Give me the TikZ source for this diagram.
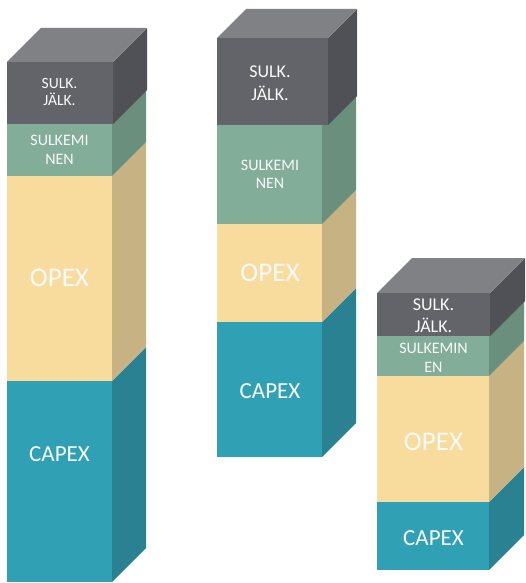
\documentclass[tikz,border=0pt]{standalone}
\usepackage{fontspec}
\setmainfont{Carlito}
\definecolor{grayF}{HTML}{636469}
\definecolor{grayT}{HTML}{808185}
\definecolor{grayS}{HTML}{505156}
\definecolor{greenF}{HTML}{82AE99}
\definecolor{greenS}{HTML}{6A8F7D}
\definecolor{yelF}{HTML}{F8DC9E}
\definecolor{yelS}{HTML}{C7B283}
\definecolor{tealF}{HTML}{30A1B5}
\definecolor{tealS}{HTML}{2A8192}
\definecolor{lbl}{HTML}{FAFAFA}
% #1 xl, #2 xr, #3 depth, #4 top, #5 bottom, #6 front colour, #7 side colour
\newcommand\cubeblock[7]{%
  \fill[#6] (#1,#4) rectangle (#2,#5);
  \fill[#7] (#2,#4) -- ++(#3,-#3) -- (#2+#3,#5-#3) -- (#2,#5) -- cycle;
}
% top face: #1 xl, #2 xr, #3 depth, #4 top
\newcommand\cubetop[4]{%
  \fill[grayT] (#1,#4) -- (#1+#3,#4-#3) -- (#2+#3,#4-#3) -- (#2,#4) -- cycle;
}
\tikzset{
  lab/.style={text=lbl, align=center, inner sep=0pt},
  biglab/.style={lab, font=\fontsize{27}{30}\selectfont},
  caplab/.style={lab, font=\fontsize{23}{26}\selectfont},
}
\begin{document}
\begin{tikzpicture}[x=1pt,y=-1pt]
\useasboundingbox (0,0) rectangle (526,583);
% ---------- bar 1 ----------
\cubeblock{7}{112}{34}{381}{582}{tealF}{tealS}
\cubeblock{7}{112}{34}{176}{381}{yelF}{yelS}
\cubeblock{7}{112}{34}{124}{176}{greenF}{greenS}
\cubeblock{7}{113}{34}{62}{124}{grayF}{grayS}
\cubetop{7}{113}{34}{62}
\node[lab, font=\fontsize{15.6}{17}\selectfont] (b1s) at (59.5,92) {SULK.\\JÄLK.};
\node[lab, font=\fontsize{16}{19}\selectfont] (b1k) at (59.5,150) {SULKEMI\\NEN};
\node[biglab] (b1o) at (59.5,278) {OPEX};
\node[caplab] (b1c) at (59.5,454) {CAPEX};
% ---------- bar 2 ----------
\cubeblock{217}{322}{34}{322}{457}{tealF}{tealS}
\cubeblock{217}{322}{34}{224}{322}{yelF}{yelS}
\cubeblock{217}{322}{34}{125}{224}{greenF}{greenS}
\cubeblock{217}{328}{29}{38}{125}{grayF}{grayS}
\cubetop{217}{328}{29}{38}
\node[lab, font=\fontsize{18}{23}\selectfont] (b2s) at (270,83) {SULK.\\JÄLK.};
\node[lab, font=\fontsize{16}{18}\selectfont] (b2k) at (270,174) {SULKEMI\\NEN};
\node[biglab] (b2o) at (270,273) {OPEX};
\node[caplab] (b2c) at (270,391) {CAPEX};
% ---------- bar 3 ----------
\cubeblock{377}{489}{35}{502}{570}{tealF}{tealS}
\cubeblock{377}{489}{35}{376}{502}{yelF}{yelS}
\cubeblock{377}{489}{35}{336}{376}{greenF}{greenS}
\cubeblock{377}{490}{35}{293}{336}{grayF}{grayS}
\cubetop{377}{490}{35}{293}
\node[lab, font=\fontsize{18}{22}\selectfont] (b3s) at (433.5,316) {SULK.\\JÄLK.};
\node[lab, font=\fontsize{16}{19}\selectfont] (b3k) at (433.5,357.5) {SULKEMIN\\EN};
\node[biglab] (b3o) at (433.5,442) {OPEX};
\node[caplab] (b3c) at (433.5,538) {CAPEX};
\end{tikzpicture}
\end{document}
